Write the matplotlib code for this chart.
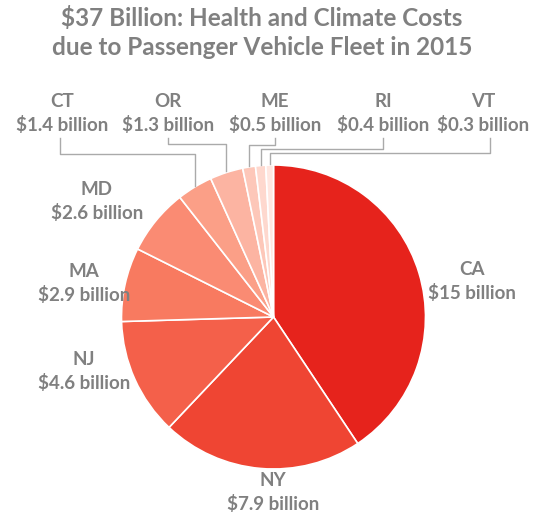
import numpy as np
import matplotlib.pyplot as plt

# 주별 비용 (billion $)
states = ['CA', 'NY', 'NJ', 'MA', 'MD', 'CT', 'OR', 'ME', 'RI', 'VT']
costs = [15, 7.9, 4.6, 2.9, 2.6, 1.4, 1.3, 0.5, 0.4, 0.3]
value_labels = ['$15 billion', '$7.9 billion', '$4.6 billion', '$2.9 billion', '$2.6 billion',
                '$1.4 billion', '$1.3 billion', '$0.5 billion', '$0.4 billion', '$0.3 billion']
colors = ['#e6231c', '#ef4533', '#f4604a', '#f87a60', '#fa8b73',
          '#fb9f87', '#fcb4a2', '#fdc7b9', '#fed8ce', '#ffe7e1']

title_lines = ['$37 Billion: Health and Climate Costs',
               'due to Passenger Vehicle Fleet in 2015']

W, H = 544, 516
gray = '#808080'
plt.rcParams['font.family'] = ['Lato', 'DejaVu Sans']

fig = plt.figure(figsize=(W / 100, H / 100), dpi=100)
ax = fig.add_axes([0, 0, 1, 1])

def fy(y):
    # 픽셀 y 좌표 -> 데이터 좌표
    return H - y

cx, cy, r = 273.5, fy(317), 152
ax.pie(costs, colors=colors, startangle=90, counterclock=False,
       center=(cx, cy), radius=r, frame=True,
       wedgeprops=dict(edgecolor='white', linewidth=1.2))
ax.set_xlim(0, W)
ax.set_ylim(0, H)
ax.set_aspect('equal')
ax.axis('off')

# 제목
ax.text(262, fy(26), title_lines[0], ha='center', va='baseline',
        fontsize=17.5, fontweight='bold', color=gray)
ax.text(262, fy(55), title_lines[1], ha='center', va='baseline',
        fontsize=17.5, fontweight='bold', color=gray)

# 라벨 위치 (중심 x, 이름 baseline y)
label_pos = {
    'CA': (472, 275), 'NY': (273, 486), 'NJ': (84, 365), 'MA': (84, 277),
    'MD': (97, 195), 'CT': (62, 107), 'OR': (168, 107), 'ME': (275, 107),
    'RI': (383, 107), 'VT': (483, 107),
}
for s, v in zip(states, value_labels):
    x, y = label_pos[s]
    ax.text(x, fy(y), s, ha='center', va='baseline', fontsize=13.5,
            fontweight='bold', color=gray)
    ax.text(x, fy(y + 24), v, ha='center', va='baseline', fontsize=13.5,
            fontweight='bold', color=gray)

# 지시선: (시작 x, 꺾이는 y)
leaders = {'CT': (60, 154), 'OR': (168, 144), 'ME': (275, 145),
           'RI': (383, 149), 'VT': (490, 153)}
cum = np.cumsum(costs)
total = cum[-1]
for i, s in enumerate(states):
    if s not in leaders:
        continue
    mid = (cum[i] - costs[i] / 2) / total * 2 * np.pi
    px = cx + r * np.sin(mid)
    py = cy + r * np.cos(mid)
    x0, yb = leaders[s]
    ax.plot([x0, x0, px, px], [fy(138), fy(yb), fy(yb), py + 1],
            color='#aaaaaa', linewidth=1)

fig.savefig('out.png', dpi=100)
